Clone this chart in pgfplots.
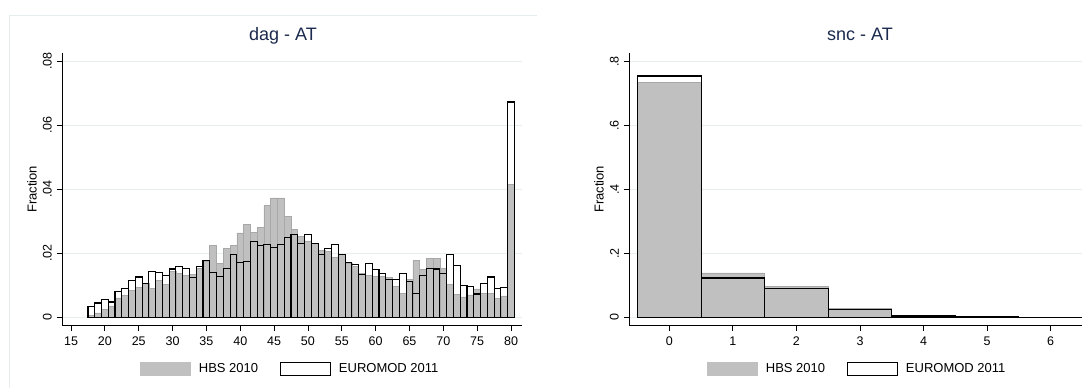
\documentclass[border=0pt]{standalone}
\usepackage{pgfplots}
\usepackage{pgfplotstable}
\pgfplotsset{compat=1.18}
\usepackage{fontspec}
\setmainfont{Liberation Sans}
\definecolor{hbs}{RGB}{192,192,192}
\definecolor{hbsedge}{RGB}{168,168,168}
\definecolor{gridc}{RGB}{230,238,240}
\definecolor{titlec}{RGB}{28,42,78}
\definecolor{framec}{RGB}{230,237,239}

\pgfplotstableread{
age hbs em
18 0.0005 0.0034
19 0.0013 0.0044
20 0.0023 0.0054
21 0.0034 0.0047
22 0.0060 0.0079
23 0.0068 0.0089
24 0.0082 0.0114
25 0.0092 0.0125
26 0.0106 0.0106
27 0.0089 0.0141
28 0.0114 0.0139
29 0.0103 0.0131
30 0.0143 0.0150
31 0.0136 0.0157
32 0.0129 0.0152
33 0.0134 0.0124
34 0.0152 0.0159
35 0.0173 0.0176
36 0.0223 0.0138
37 0.0168 0.0128
38 0.0214 0.0152
39 0.0224 0.0196
40 0.0263 0.0171
41 0.0290 0.0173
42 0.0264 0.0237
43 0.0280 0.0223
44 0.0348 0.0227
45 0.0372 0.0218
46 0.0372 0.0228
47 0.0315 0.0248
48 0.0274 0.0258
49 0.0251 0.0229
50 0.0238 0.0257
51 0.0230 0.0230
52 0.0209 0.0195
53 0.0204 0.0213
54 0.0187 0.0226
55 0.0195 0.0195
56 0.0168 0.0171
57 0.0157 0.0163
58 0.0136 0.0133
59 0.0131 0.0168
60 0.0128 0.0149
61 0.0126 0.0136
62 0.0125 0.0118
63 0.0096 0.0118
64 0.0075 0.0136
65 0.0117 0.0111
66 0.0178 0.0073
67 0.0150 0.0129
68 0.0183 0.0153
69 0.0183 0.0150
70 0.0153 0.0136
71 0.0102 0.0195
72 0.0072 0.0161
73 0.0063 0.0099
74 0.0069 0.0095
75 0.0088 0.0072
76 0.0075 0.0106
77 0.0075 0.0125
78 0.0059 0.0088
79 0.0066 0.0092
80 0.0414 0.0672
}\dagtable

\pgfplotstableread{
snc hbs em
0 0.735 0.754
1 0.139 0.123
2 0.096 0.0896
3 0.027 0.026
4 0.004 0.0044
5 0.0012 0.0015
6 0.0008 0.0010
}\snctable

\pgfplotsset{
  statastyle/.style={
    scale only axis,
    axis lines=left,
    axis line style={-, black, line width=0.8pt},
    tick align=outside,
    major tick length=5.5pt,
    tick style={black, line width=0.8pt},
    ymajorgrids,
    grid style={gridc, line width=0.8pt},
    scaled y ticks=false,
    scaled x ticks=false,
    tick label style={font=\fontsize{12.5}{14}\selectfont},
    /pgf/number format/assume math mode=true,
    label style={font=\fontsize{13}{15}\selectfont},
    title style={font=\fontsize{18}{20}\selectfont, text=titlec},
    yticklabel style={rotate=90, anchor=south},
    xticklabel shift=2pt,
    yticklabel shift=1.5pt,
    legend style={draw=none, fill=none, legend columns=2, inner sep=0pt,
      font=\fontsize{13}{15}\selectfont, nodes={inner sep=0pt},
      /tikz/every odd column/.append style={column sep=8pt},
      /tikz/every even column/.append style={column sep=22pt},
      anchor=west},
  },
  hbsbar/.style={ybar, bar width=1, bar shift=0pt, fill=hbs, draw=hbsedge, line width=0.7pt,
    legend image code/.code={\draw[fill=hbs, draw=hbs] (0pt,-6.5pt) rectangle (50pt,6.5pt);}},
  embar/.style={ybar, bar width=1, bar shift=0pt, fill=none, draw=black, line width=1.1pt,
    legend image code/.code={\draw[fill=white, draw=black, line width=0.8pt] (0pt,-6.5pt) rectangle (50pt,6.5pt);}},
}

\begin{document}
\begin{tikzpicture}
\useasboundingbox (0,0) rectangle (1082pt,388pt);
\fill[white] (0,0) rectangle (1082pt,388pt);
\draw[framec, line width=0.8pt] (9.5pt,-2pt) -- (9.5pt,373pt) -- (537pt,373pt);

\begin{axis}[statastyle,
  at={(62.3pt,62.3pt)}, anchor=south west,
  width=459.4pt, height=272.7pt,
  xmin=13.71, xmax=81.58, ymin=-0.0027, ymax=0.0825,
  xtick={15,20,...,80},
  ytick={0,0.02,0.04,0.06,0.08},
  yticklabels={0,.02,.04,.06,.08},
  ylabel={Fraction},
  ylabel style={at={(axis description cs:-0.066,0.5)}, anchor=center},
  title={dag - AT},
  title style={at={(axis description cs:0.4804,1.0231)}, anchor=base},
  legend style={at={(0.1691,-0.157)}},
]
\addplot[hbsbar] table[x=age, y=hbs] {\dagtable};
\addlegendentry{HBS 2010}
\addplot[embar] table[x=age, y=em] {\dagtable};
\addlegendentry{EUROMOD 2011}
\end{axis}

\begin{axis}[statastyle,
  at={(629.3pt,62.3pt)}, anchor=south west,
  width=453.2pt, height=272.7pt,
  xmin=-0.629, xmax=6.5, ymin=-0.026, ymax=0.826,
  xtick={0,1,2,3,4,5,6},
  ytick={0,0.2,0.4,0.6,0.8},
  yticklabels={0,.2,.4,.6,.8},
  ylabel={Fraction},
  ylabel style={at={(axis description cs:-0.0669,0.5)}, anchor=center},
  title={snc - AT},
  title style={at={(axis description cs:0.509,1.0231)}, anchor=base},
  legend style={at={(0.1714,-0.157)}},
]
\addplot[hbsbar] table[x=snc, y=hbs] {\snctable};
\addlegendentry{HBS 2010}
\addplot[embar] table[x=snc, y=em] {\snctable};
\addlegendentry{EUROMOD 2011}
\end{axis}
\end{tikzpicture}
\end{document}
